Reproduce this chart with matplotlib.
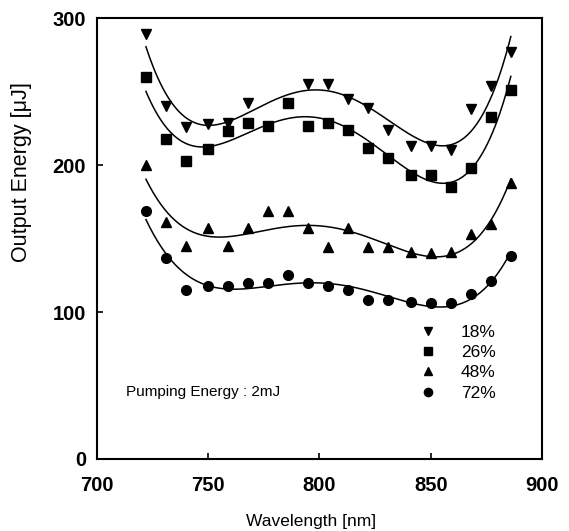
import matplotlib.pyplot as plt
import numpy as np

plt.rcParams['font.family'] = ['Liberation Sans', 'DejaVu Sans']

# wavelengths (nm)
wl = [722, 731, 740, 750, 759, 768, 777, 786, 795, 804, 813, 822, 831, 841, 850, 859, 868, 877, 886]
# 18% has two points hidden under the squares (777, 786)
wl_18 = [722, 731, 740, 750, 759, 768, 795, 804, 813, 822, 831, 841, 850, 859, 868, 877, 886]

e18 = [289, 240, 226, 228, 229, 242, 255, 255, 245, 239, 224, 213, 213, 210, 238, 254, 277]
e26 = [260, 218, 203, 211, 223, 229, 227, 242, 227, 229, 224, 212, 205, 193, 193, 185, 198, 233, 251]
e48 = [200, 161, 145, 157, 145, 157, 169, 169, 157, 144, 157, 144, 144, 141, 140, 141, 153, 160, 188]
e72 = [169, 137, 115, 118, 118, 120, 120, 125, 120, 118, 115, 108, 108, 107, 106, 106, 112, 121, 138]

series = [
    ('18%', wl_18, e18, 'v', 7.5),
    ('26%', wl, e26, 's', 6.5),
    ('48%', wl, e48, '^', 7.5),
    ('72%', wl, e72, 'o', 7),
]

fig = plt.figure(figsize=(5.69, 5.31), dpi=100)
ax = fig.add_axes([0.1705, 0.1356, 0.782, 0.830])

for label, x, y, mk, ms in series:
    ax.plot(x, y, linestyle='none', marker=mk, markersize=ms, color='black', label=label)
    # smooth polynomial fit through the points
    coef = np.polyfit(x, y, 4)
    xx = np.linspace(min(x), max(x), 300)
    ax.plot(xx, np.polyval(coef, xx), color='black', linewidth=1.1)

ax.set_xlim(700, 900)
ax.set_ylim(0, 300)
ax.set_xticks([700, 750, 800, 850, 900])
ax.set_yticks([0, 100, 200, 300])
ax.tick_params(direction='in', length=4, width=1.2, labelsize=14.5, top=False, right=False)
ax.tick_params(axis='x', pad=12)
ax.tick_params(axis='y', pad=8)
for t in ax.get_xticklabels() + ax.get_yticklabels():
    t.set_fontweight('bold')
for s in ax.spines.values():
    s.set_linewidth(1.5)

ax.set_xlabel('Wavelength [nm]', fontsize=12.5)
ax.set_ylabel('Output Energy [\u03bcJ]', fontsize=15.5)
ax.xaxis.set_label_coords(0.48, -0.125)
ax.yaxis.set_label_coords(-0.145, 0.65)

ax.text(0.065, 0.152, 'Pumping Energy : 2mJ', transform=ax.transAxes, fontsize=11, va='center')

ax.legend(loc='upper left', bbox_to_anchor=(0.705, 0.305), frameon=False, fontsize=12.5,
          markerscale=0.85, handletextpad=0.9, labelspacing=0.3, borderpad=0, borderaxespad=0)

plt.savefig('out.png', dpi=100)
